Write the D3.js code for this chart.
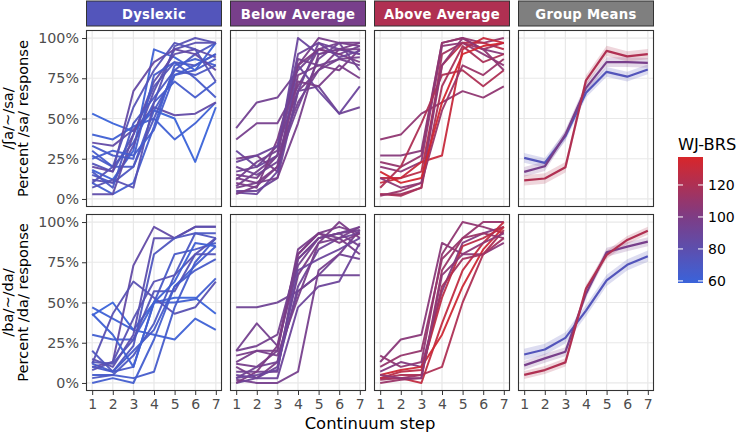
<!DOCTYPE html>
<html><head><meta charset="utf-8">
<script src="https://cdn.jsdelivr.net/npm/d3@7"></script>
<style>body{margin:0;background:#fff}svg{display:block;font-family:"DejaVu Sans",sans-serif}</style>
</head><body><svg id="c" width="741" height="432"></svg>
<script>
// ---------------- DATA ----------------
const steps = [1, 2, 3, 4, 5, 6, 7];
const facetNames = ["Dyslexic", "Below Average", "Above Average", "Group Means"];
const groupWJ = [74, 97, 121];            // mean WJ-BRS per group (for strip/mean colours)
const yTicks = [0, 0.25, 0.5, 0.75, 1];
const yTickLabels = ["0%", "25%", "50%", "75%", "100%"];
const legendTicks = [60, 80, 100, 120];
const legendLimits = [58.7, 137.5];
const rowTitles = [["/ʃa/~/sa/", "Percent /sa/ response"], ["/ba/~/da/", "Percent /da/ response"]];

// individual listeners: wj score + percent per step
const dysSa = [
  {wj: 59, v: [53, 47, 42, 55, 50, 23, 57]},
  {wj: 62, v: [40, 37, 45, 50, 37, 47, 60]},
  {wj: 84, v: [35, 33, 43, 57, 52, 53, 60]},
  {wj: 66, v: [30, 20, 35, 60, 73, 63, 73]},
  {wj: 68, v: [27, 20, 20, 55, 77, 80, 87]},
  {wj: 75, v: [22, 17, 40, 70, 85, 83, 90]},
  {wj: 61, v: [18, 12, 30, 93, 88, 80, 97]},
  {wj: 71, v: [15, 10, 20, 50, 80, 90, 97]},
  {wj: 79, v: [12, 10, 33, 67, 93, 97, 97]},
  {wj: 64, v: [10, 3, 10, 45, 83, 87, 83]},
  {wj: 77, v: [7, 12, 7, 60, 95, 100, 97]},
  {wj: 82, v: [3, 3, 40, 73, 90, 93, 88]},
  {wj: 85, v: [20, 17, 67, 85, 93, 90, 80]},
  {wj: 67, v: [33, 27, 25, 77, 85, 75, 63]},
  {wj: 70, v: [17, 7, 47, 63, 80, 77, 83]},
  {wj: 65, v: [25, 30, 27, 43, 77, 83, 90]},
  {wj: 76, v: [10, 20, 57, 80, 97, 93, 73]}
];
const belowSa = [
  {wj: 94, v: [44, 60, 63, 80, 93, 90, 95]},
  {wj: 96, v: [37, 47, 47, 70, 93, 97, 95]},
  {wj: 88, v: [30, 20, 27, 100, 90, 93, 90]},
  {wj: 98, v: [25, 27, 17, 67, 80, 93, 97]},
  {wj: 92, v: [17, 20, 33, 67, 70, 53, 57]},
  {wj: 97, v: [15, 13, 27, 83, 100, 97, 97]},
  {wj: 99, v: [13, 10, 20, 77, 83, 80, 93]},
  {wj: 95, v: [8, 17, 27, 60, 80, 87, 88]},
  {wj: 91, v: [5, 5, 13, 67, 97, 93, 90]},
  {wj: 89, v: [4, 3, 17, 83, 67, 53, 70]},
  {wj: 100, v: [10, 7, 37, 83, 93, 90, 85]},
  {wj: 93, v: [20, 15, 23, 57, 87, 97, 80]},
  {wj: 97, v: [7, 10, 13, 47, 90, 93, 93]},
  {wj: 95, v: [12, 23, 30, 87, 83, 87, 83]},
  {wj: 98, v: [3, 8, 20, 73, 70, 83, 75]},
  {wj: 90, v: [23, 27, 33, 90, 97, 88, 92]}
];
const aboveSa = [
  {wj: 108, v: [37, 40, 53, 60, 67, 63, 70]},
  {wj: 104, v: [27, 27, 30, 97, 100, 93, 90]},
  {wj: 110, v: [23, 20, 27, 97, 100, 97, 100]},
  {wj: 106, v: [20, 17, 23, 95, 97, 90, 83]},
  {wj: 125, v: [13, 13, 17, 83, 97, 97, 93]},
  {wj: 130, v: [10, 13, 23, 27, 93, 100, 97]},
  {wj: 120, v: [7, 20, 47, 77, 80, 70, 80]},
  {wj: 115, v: [3, 3, 7, 90, 97, 93, 97]},
  {wj: 118, v: [3, 2, 7, 70, 95, 85, 90]},
  {wj: 112, v: [2, 5, 10, 55, 83, 77, 87]},
  {wj: 107, v: [13, 7, 10, 83, 100, 93, 80]},
  {wj: 135, v: [17, 10, 13, 60, 90, 95, 97]}
];
const dysDa = [
  {wj: 59, v: [42, 50, 33, 50, 53, 53, 43]},
  {wj: 61, v: [47, 40, 33, 30, 27, 40, 33]},
  {wj: 63, v: [30, 27, 27, 50, 50, 52, 65]},
  {wj: 84, v: [10, 13, 73, 97, 90, 97, 97]},
  {wj: 78, v: [12, 43, 63, 53, 43, 47, 63]},
  {wj: 80, v: [15, 10, 30, 90, 90, 97, 97]},
  {wj: 72, v: [20, 7, 23, 80, 90, 93, 90]},
  {wj: 68, v: [10, 7, 10, 50, 80, 83, 87]},
  {wj: 66, v: [5, 5, 3, 7, 47, 75, 90]},
  {wj: 70, v: [3, 5, 17, 37, 67, 93, 93]},
  {wj: 64, v: [0, 3, 0, 27, 60, 73, 85]},
  {wj: 75, v: [13, 12, 27, 57, 57, 80, 80]},
  {wj: 67, v: [12, 7, 20, 33, 60, 70, 77]},
  {wj: 77, v: [8, 13, 40, 63, 67, 80, 90]},
  {wj: 62, v: [43, 30, 10, 50, 63, 87, 85]}
];
const belowDa = [
  {wj: 92, v: [47, 47, 50, 57, 67, 67, 67]},
  {wj: 95, v: [20, 37, 23, 73, 90, 93, 97]},
  {wj: 98, v: [17, 20, 20, 80, 93, 97, 93]},
  {wj: 97, v: [12, 10, 20, 83, 93, 90, 80]},
  {wj: 99, v: [10, 3, 13, 67, 87, 100, 90]},
  {wj: 94, v: [7, 7, 7, 77, 90, 93, 95]},
  {wj: 90, v: [5, 3, 3, 47, 60, 63, 87]},
  {wj: 93, v: [3, 10, 13, 57, 67, 80, 77]},
  {wj: 96, v: [2, 0, 0, 7, 70, 80, 95]},
  {wj: 91, v: [0, 3, 10, 60, 83, 90, 93]},
  {wj: 100, v: [0, 7, 23, 80, 93, 87, 93]},
  {wj: 97, v: [13, 20, 17, 53, 87, 90, 97]},
  {wj: 89, v: [3, 5, 8, 70, 77, 83, 90]},
  {wj: 95, v: [20, 23, 30, 77, 90, 93, 85]}
];
const aboveDa = [
  {wj: 105, v: [13, 27, 30, 87, 80, 80, 87]},
  {wj: 108, v: [17, 10, 13, 80, 100, 97, 93]},
  {wj: 110, v: [10, 17, 20, 77, 90, 100, 100]},
  {wj: 103, v: [7, 13, 10, 57, 87, 93, 97]},
  {wj: 128, v: [3, 3, 0, 37, 70, 87, 100]},
  {wj: 133, v: [5, 8, 10, 30, 60, 83, 97]},
  {wj: 120, v: [3, 5, 5, 10, 50, 80, 95]},
  {wj: 115, v: [2, 3, 5, 60, 77, 80, 90]},
  {wj: 112, v: [0, 2, 3, 70, 90, 93, 90]},
  {wj: 125, v: [3, 7, 8, 53, 85, 90, 97]},
  {wj: 106, v: [5, 3, 3, 67, 80, 87, 93]}
];
// group means (percent) and standard errors
const meanSaDys = [25.5, 22.4, 39, 66, 79, 76, 80.5];
const meanSaBelow = [16.8, 20.3, 40, 69, 85, 85, 84.6];
const meanSaAbove = [11.6, 12.7, 19.7, 73.7, 92, 88.6, 90];
const seSa = [3, 3, 3.2];
const meanDaDys = [17.7, 20.8, 28, 45, 63.7, 73.4, 78.8];
const meanDaBelow = [10.9, 15.3, 19.4, 55.5, 81.2, 84.7, 87.8];
const meanDaAbove = [5, 8, 12.8, 58.6, 79.6, 88.9, 94.6];
const seDa = [3.5, 2.8, 2.5];

// ---------------- DRAW ----------------
const svg = d3.select("#c");
const color = d3.scaleLinear().domain([legendLimits[0], 100, legendLimits[1]])
  .range(["#3A63DA", "#7D3C85", "#D8262A"]).interpolate(d3.interpolateRgb);
const stripFill = [color(groupWJ[0]), color(groupWJ[1]), color(groupWJ[2]), "#7F7F7F"];

const panelW = 136, gap = 8, left0 = 86;
const rowsY = [[30, 207], [214, 391]];
const colX = i => left0 + i * (panelW + gap);

const panelData = [[dysSa, belowSa, aboveSa], [dysDa, belowDa, aboveDa]];
const meanData = [[meanSaDys, meanSaBelow, meanSaAbove], [meanDaDys, meanDaBelow, meanDaAbove]];
const seData = [seSa, seDa];

// strips
facetNames.forEach((name, i) => {
  const g = svg.append("g");
  g.append("rect").attr("x", colX(i) + 0.5).attr("y", 1).attr("width", panelW - 1).attr("height", 25)
    .attr("fill", stripFill[i]).attr("stroke", "#333").attr("stroke-width", 1);
  g.append("text").attr("x", colX(i) + panelW / 2).attr("y", 14).attr("text-anchor", "middle")
    .attr("dominant-baseline", "central").attr("fill", "#fff").attr("font-weight", "bold")
    .attr("font-size", 13.2).attr("letter-spacing", 0.3).text(name);
});

rowsY.forEach((ry, r) => {
  const y = d3.scaleLinear().domain([-0.05, 1.05]).range([ry[1], ry[0]]);
  for (let c = 0; c < 4; c++) {
    const x0 = colX(c);
    const x = d3.scaleLinear().domain([0.7, 7.3]).range([x0, x0 + panelW]);
    const g = svg.append("g");
    g.append("rect").attr("x", x0).attr("y", ry[0]).attr("width", panelW).attr("height", ry[1] - ry[0]).attr("fill", "#fff");
    // grid
    g.selectAll(".gx").data(steps).join("line").attr("x1", d => x(d)).attr("x2", d => x(d))
      .attr("y1", ry[0]).attr("y2", ry[1]).attr("stroke", "#E8E8E8").attr("stroke-width", 1.2);
    g.selectAll(".gy").data(yTicks).join("line").attr("y1", d => y(d)).attr("y2", d => y(d))
      .attr("x1", x0).attr("x2", x0 + panelW).attr("stroke", "#E8E8E8").attr("stroke-width", 1.2);
    const line = d3.line().x((d, i) => x(steps[i])).y(d => y(d / 100));
    if (c < 3) {
      g.selectAll(".ln").data(panelData[r][c]).join("path")
        .attr("d", d => line(d.v)).attr("fill", "none").attr("stroke", d => color(d.wj))
        .attr("stroke-width", 2).attr("stroke-linejoin", "round").attr("opacity", 0.95);
    } else {
      const area = d3.area().x((d, i) => x(steps[i]));
      meanData[r].forEach((m, k) => {
        const se = seData[r][k];
        g.append("path").attr("d", area.y0(d => y((d - se) / 100)).y1(d => y((d + se) / 100))(m))
          .attr("fill", color(groupWJ[k])).attr("opacity", 0.2);
      });
      meanData[r].forEach((m, k) => {
        g.append("path").attr("d", line(m)).attr("fill", "none").attr("stroke", color(groupWJ[k]))
          .attr("stroke-width", 2.2).attr("stroke-linejoin", "round");
      });
    }
    g.append("rect").attr("x", x0 + 0.5).attr("y", ry[0] + 0.5).attr("width", panelW - 1).attr("height", ry[1] - ry[0] - 1)
      .attr("fill", "none").attr("stroke", "#333").attr("stroke-width", 1.1);
    if (c === 0) {
      const ax = d3.axisLeft(y).tickValues(yTicks).tickFormat((d, i) => yTickLabels[i]).tickSize(4).tickPadding(3);
      const a = svg.append("g").attr("transform", `translate(${x0},0)`).call(ax);
      a.select(".domain").remove();
      a.selectAll("line").attr("stroke", "#333");
      a.selectAll("text").attr("fill", "#4D4D4D").attr("font-size", 14.3).attr("font-family", "DejaVu Sans");
    }
    if (r === 1) {
      const ax = d3.axisBottom(x).tickValues(steps).tickFormat(d3.format("d")).tickSize(4).tickPadding(4.5);
      const a = svg.append("g").attr("transform", `translate(0,${ry[1]})`).call(ax);
      a.select(".domain").remove();
      a.selectAll("line").attr("stroke", "#333");
      a.selectAll("text").attr("fill", "#4D4D4D").attr("font-size", 14).attr("font-family", "DejaVu Sans");
    }
  }
  // y titles
  const cy = (ry[0] + ry[1]) / 2;
  const t = svg.append("text").attr("transform", `translate(0,${cy}) rotate(-90)`)
    .attr("text-anchor", "middle").attr("font-size", 14.6).attr("fill", "#000");
  t.append("tspan").attr("x", 0).attr("y", 13).text(rowTitles[r][0]);
  t.append("tspan").attr("x", 0).attr("y", 28).text(rowTitles[r][1]);
});

// x title
svg.append("text").attr("x", colX(0) + (4 * panelW + 3 * gap) / 2).attr("y", 428.5).attr("text-anchor", "middle")
  .attr("font-size", 16.4).attr("fill", "#000").text("Continuum step");

// legend
const lg = svg.append("g");
lg.append("text").attr("x", 678).attr("y", 150).attr("font-size", 16.3).attr("fill", "#000").text("WJ-BRS");
const ly = d3.scaleLinear().domain(legendLimits).range([283, 157]);
const grad = svg.append("defs").append("linearGradient").attr("id", "lgGrad")
  .attr("x1", 0).attr("x2", 0).attr("y1", 1).attr("y2", 0);
d3.range(0, 1.0001, 0.05).forEach(t => {
  const v = legendLimits[0] + t * (legendLimits[1] - legendLimits[0]);
  grad.append("stop").attr("offset", t).attr("stop-color", color(v));
});
lg.append("rect").attr("x", 678).attr("y", 157).attr("width", 25).attr("height", 126).attr("fill", "url(#lgGrad)");
legendTicks.forEach(v => {
  lg.append("line").attr("x1", 678).attr("x2", 683).attr("y1", ly(v)).attr("y2", ly(v)).attr("stroke", "#fff").attr("stroke-width", 1);
  lg.append("line").attr("x1", 698).attr("x2", 703).attr("y1", ly(v)).attr("y2", ly(v)).attr("stroke", "#fff").attr("stroke-width", 1);
  lg.append("text").attr("x", 708).attr("y", ly(v)).attr("dominant-baseline", "central")
    .attr("font-size", 14).attr("fill", "#000").text(v);
});
</script></body></html>
